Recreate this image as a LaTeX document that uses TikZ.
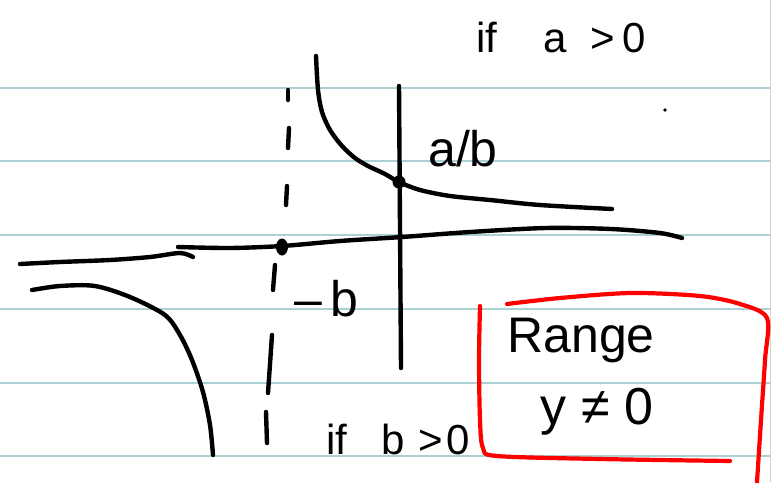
\documentclass[tikz,border=0pt]{standalone}
\usepackage{fontspec}
\setmainfont{Liberation Sans}
\usetikzlibrary{shapes.geometric}
\begin{document}
\begin{tikzpicture}[x=1pt,y=-1pt,
  ink/.style={line width=4.4pt, line cap=round, line join=round, black},
  redink/.style={line width=4.2pt, line cap=round, line join=round, red},
  rule/.style={line width=1.3pt, color={rgb,255:red,170;green,210;blue,212}},
  hand/.style={font=\fontsize{42}{46}\selectfont, inner sep=0pt},
  dot/.style={circle, fill=black, inner sep=0pt, minimum size=13pt}]
\useasboundingbox (0,0) rectangle (775,482);
\fill[white] (0,0) rectangle (775,482);
% ruled paper
\foreach \yy in {88,161,235,309,383,456} \draw[rule] (0,\yy) -- (770,\yy);
\draw[line width=1pt, gray!35] (770,0) -- (770,482);
% axes
\draw[ink] (399,86) -- (401,368);
\draw[ink] plot[smooth] coordinates {(20,264) (60,262) (110,260) (150,257) (180,253) (193,257)};
\draw[ink] plot[smooth] coordinates {(178,247) (230,248) (282,246) (340,241) (402,237) (470,232) (546,228) (611,229) (660,233) (682,238)};
% asymptote (dashed, hand drawn)
\draw[ink] (288,90) -- (288,100);
\draw[ink] (289,128) -- (288,148);
\draw[ink] (287,186) -- (286,205);
\draw[ink] (275,265) -- (273,290);
\draw[ink] (272,335) -- (268,393);
\draw[ink] (266,412) -- (267,443);
% hyperbola branches
\draw[ink] plot[smooth] coordinates {(316,56) (318,90) (322,112) (330,130) (342,146) (355,158) (368,166) (385,174) (399,182) (420,190) (450,196) (490,200) (540,205) (612,209)};
\draw[ink] plot[smooth] coordinates {(32,290) (60,286) (95,286) (130,297) (165,315) (180,335) (192,360) (203,392) (210,425) (213,455)};
% points
\node[dot, ellipse, minimum width=12pt, minimum height=17pt] (pb) at (282,247) {};
\node[dot] (pa) at (399,182) {};
\fill (665,110) circle (1.8);
% labels
\node[hand, anchor=base west] (ta) at (476,52) {if\hspace{46pt}a\hspace{24pt}>\hspace{7pt}0};
\node[hand, font=\fontsize{50}{54}\selectfont, anchor=base west] (lab) at (428,166) {a/b};
\node[hand, font=\fontsize{50}{54}\selectfont, anchor=base west] (lmb) at (294,316) {–\hspace{8pt}b};
\node[hand, anchor=base west] (tb) at (326,454) {if\hspace{34pt}b\hspace{14pt}>\hspace{3pt}0};
% range box
\draw[redink] plot[smooth] coordinates {(480,306) (479,360) (480,420) (483,448) (497,456) (600,459) (730,461)};
\draw[redink] plot[smooth] coordinates {(507,304) (560,298) (631,293) (700,296) (740,304) (767,318) (765,360) (761,420) (757,482)};
\node[hand, font=\fontsize{50}{54}\selectfont] (rg) at (581,340) {Range};
\node[hand, font=\fontsize{52}{56}\selectfont] (yz) at (597,412) {y ≠ 0};
\end{tikzpicture}
\end{document}
